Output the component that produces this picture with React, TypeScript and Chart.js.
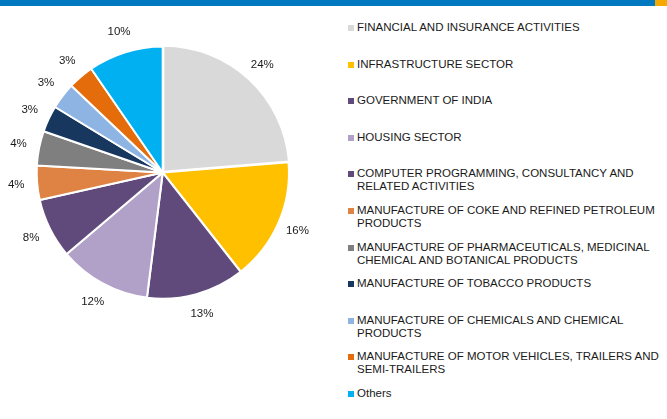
import React, { useEffect, useRef } from "react";
import { Chart, registerables } from "chart.js";

Chart.register(...registerables);

const categories: string[][] = [
  ["FINANCIAL AND INSURANCE ACTIVITIES"],
  ["INFRASTRUCTURE SECTOR"],
  ["GOVERNMENT OF INDIA"],
  ["HOUSING SECTOR"],
  ["COMPUTER PROGRAMMING, CONSULTANCY AND", "RELATED ACTIVITIES"],
  ["MANUFACTURE OF COKE AND REFINED PETROLEUM", "PRODUCTS"],
  ["MANUFACTURE OF PHARMACEUTICALS, MEDICINAL", "CHEMICAL AND BOTANICAL PRODUCTS"],
  ["MANUFACTURE OF TOBACCO PRODUCTS"],
  ["MANUFACTURE OF CHEMICALS AND CHEMICAL", "PRODUCTS"],
  ["MANUFACTURE OF MOTOR VEHICLES, TRAILERS AND", "SEMI-TRAILERS"],
  ["Others"],
];

// shares (%); labels show the rounded value
const shares: number[] = [23.7, 15.7, 12.6, 11.8, 7.7, 4.4, 4.4, 3.4, 3.4, 3.3, 9.6];

const colors: string[] = [
  "#D9D9D9",
  "#FFC000",
  "#604A7B",
  "#B1A0C7",
  "#604A7B",
  "#DE8344",
  "#7F7F7F",
  "#17375E",
  "#8DB4E2",
  "#E46C0A",
  "#00B0F0",
];

const explode: number[] = [4, 1, 1, 0, 0, 0, 0, 0, 0, 0, 0];

const FONT = "Arial, 'Liberation Sans', sans-serif";

const outsideLabels = {
  id: "outsideLabels",
  afterDatasetsDraw(chart: any) {
    const ctx = chart.ctx;
    const meta = chart.getDatasetMeta(0);
    const data = chart.data.datasets[0].data as number[];
    ctx.save();
    ctx.font = `11.5px ${FONT}`;
    ctx.fillStyle = "#1a1a1a";
    ctx.textAlign = "center";
    ctx.textBaseline = "middle";
    meta.data.forEach((arc: any, i: number) => {
      const { x, y, startAngle, endAngle, outerRadius } = arc.getProps(
        ["x", "y", "startAngle", "endAngle", "outerRadius"],
        true
      );
      const mid = (startAngle + endAngle) / 2;
      const r = outerRadius + 21;
      ctx.fillText(`${Math.round(data[i])}%`, x + Math.cos(mid) * r, y + Math.sin(mid) * r);
    });
    ctx.restore();
  },
};

export default function App() {
  const ref = useRef<HTMLCanvasElement>(null);

  useEffect(() => {
    document.body.style.margin = "0";
    const chart = new Chart(ref.current!, {
      type: "pie",
      data: {
        labels: categories,
        datasets: [
          {
            data: shares,
            backgroundColor: colors,
            borderColor: "#FFFFFF",
            borderWidth: 2,
            hoverOffset: 0,
            offset: explode,
          },
        ],
      },
      options: {
        animation: false,
        responsive: false,
        radius: 126,
        layout: { padding: { left: 36, right: 40.6, top: 46, bottom: 120 } },
        plugins: {
          legend: { display: false },
          tooltip: { enabled: false },
        },
      },
      plugins: [outsideLabels],
    });
    return () => chart.destroy();
  }, []);

  return (
    <div style={{ position: "relative", width: 667, height: 419, background: "#fff", overflow: "hidden" }}>
      <div style={{ position: "absolute", left: 0, top: 0, width: 655, height: 6, background: "#0079C1" }} />
      <div style={{ position: "absolute", left: 655, top: 0, width: 12, height: 6, background: "#F5A800" }} />
      <canvas ref={ref} width={330} height={419} style={{ position: "absolute", left: 0, top: 0 }} />
      <div style={{ position: "absolute", left: 348, top: 21, width: 319, fontFamily: FONT, fontSize: 11.5, color: "#1a1a1a" }}>
        {categories.map((lines, i) => (
          <div key={i} style={{ position: "absolute", top: i * 36.6, left: 0, display: "flex", alignItems: "flex-start" }}>
            <span style={{ display: "inline-block", width: 6, height: 6, marginTop: 4, marginRight: 3, background: colors[i] }} />
            <span style={{ lineHeight: "13px", whiteSpace: "nowrap" }}>
              {lines.map((l, j) => (
                <div key={j}>{l}</div>
              ))}
            </span>
          </div>
        ))}
      </div>
    </div>
  );
}
